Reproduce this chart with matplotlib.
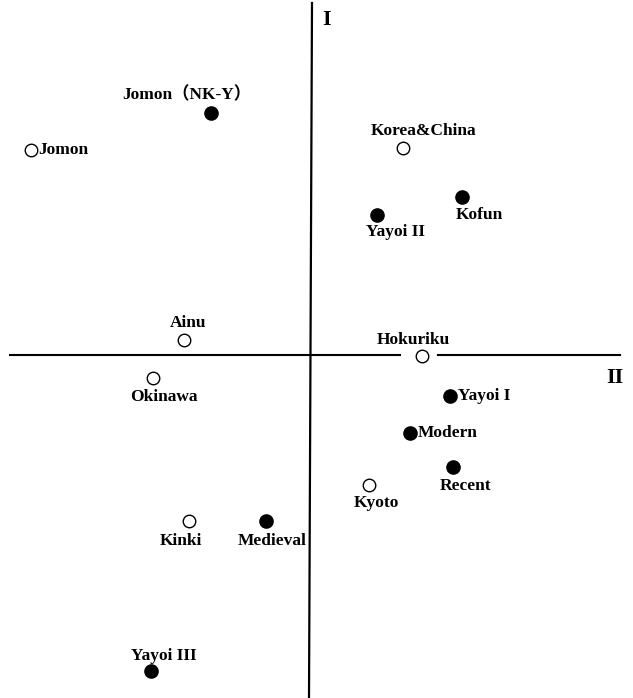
import matplotlib.pyplot as plt

# coordenadas estimadas (eixo II horizontal, eixo I vertical)
grupos = ['Jomon', 'Jomon（NK-Y）', 'Korea&China', 'Kofun', 'Yayoi II', 'Ainu',
          'Hokuriku', 'Okinawa', 'Yayoi I', 'Modern', 'Recent', 'Kyoto',
          'Kinki', 'Medieval', 'Yayoi III']
eixo_2 = [-2.80, -1.00, 0.92, 1.51, 0.66, -1.27, 1.11, -1.58, 1.39, 0.99,
          1.42, 0.58, -1.22, -0.45, -1.60]
eixo_1 = [2.05, 2.42, 2.07, 1.58, 1.40, 0.15, -0.01, -0.23, -0.41, -0.78,
          -1.12, -1.30, -1.66, -1.66, -3.16]
cheio = [False, True, False, True, True, False, False, False, True, True,
         True, False, False, True, True]

# posicao dos rotulos (pixels relativos ao ponto)
offsets = {
    'Jomon': (7, 0, 'left'),
    'Jomon（NK-Y）': (-24, -18, 'center'),
    'Korea&China': (21, -17, 'center'),
    'Kofun': (17, 18, 'center'),
    'Yayoi II': (18, 17, 'center'),
    'Ainu': (4, -17, 'center'),
    'Hokuriku': (-9, -16, 'center'),
    'Okinawa': (11, 19, 'center'),
    'Yayoi I': (8, 0, 'left'),
    'Modern': (8, 0, 'left'),
    'Recent': (13, 19, 'center'),
    'Kyoto': (7, 18, 'center'),
    'Kinki': (-8, 20, 'center'),
    'Medieval': (6, 20, 'center'),
    'Yayoi III': (13, -15, 'center'),
}

fig = plt.figure(figsize=(6.33, 6.98), dpi=100)
ax = fig.add_axes([0, 0, 1, 1])
ax.set_xlim(-3.11, 3.22)
ax.set_ylim(-3.43, 3.55)
ax.axis('off')

# eixos (com intervalo em volta de Hokuriku)
hx = eixo_2[grupos.index('Hokuriku')]
ax.plot([-3.01, hx - 0.22], [0, 0], color='black', lw=1.5, zorder=1)
ax.plot([hx + 0.16, 3.09], [0, 0], color='black', lw=1.5, zorder=1)
ax.plot([0.01, -0.02], [3.52, -3.43], color='black', lw=1.6, zorder=1)

fonte = dict(family=['Liberation Serif', 'Noto Sans CJK JP', 'DejaVu Serif'],
             weight='bold')
ax.text(0.16, 3.35, 'I', fontsize=16, ha='center', va='center', **fonte)
ax.text(3.04, -0.23, 'II', fontsize=16, ha='center', va='center', **fonte)

for nome, x, y, c in zip(grupos, eixo_2, eixo_1, cheio):
    if c:
        ax.plot(x, y, 'o', ms=9.5, mfc='black', mec='black', mew=1, zorder=3)
    else:
        ax.plot(x, y, 'o', ms=9, mfc='white', mec='black', mew=1, zorder=3)
    dx, dy, ha = offsets[nome]
    ax.annotate(nome, (x, y), xytext=(dx, -dy), textcoords='offset pixels',
                ha=ha, va='center', fontsize=12.5, **fonte)

fig.savefig('out.png', dpi=100)
